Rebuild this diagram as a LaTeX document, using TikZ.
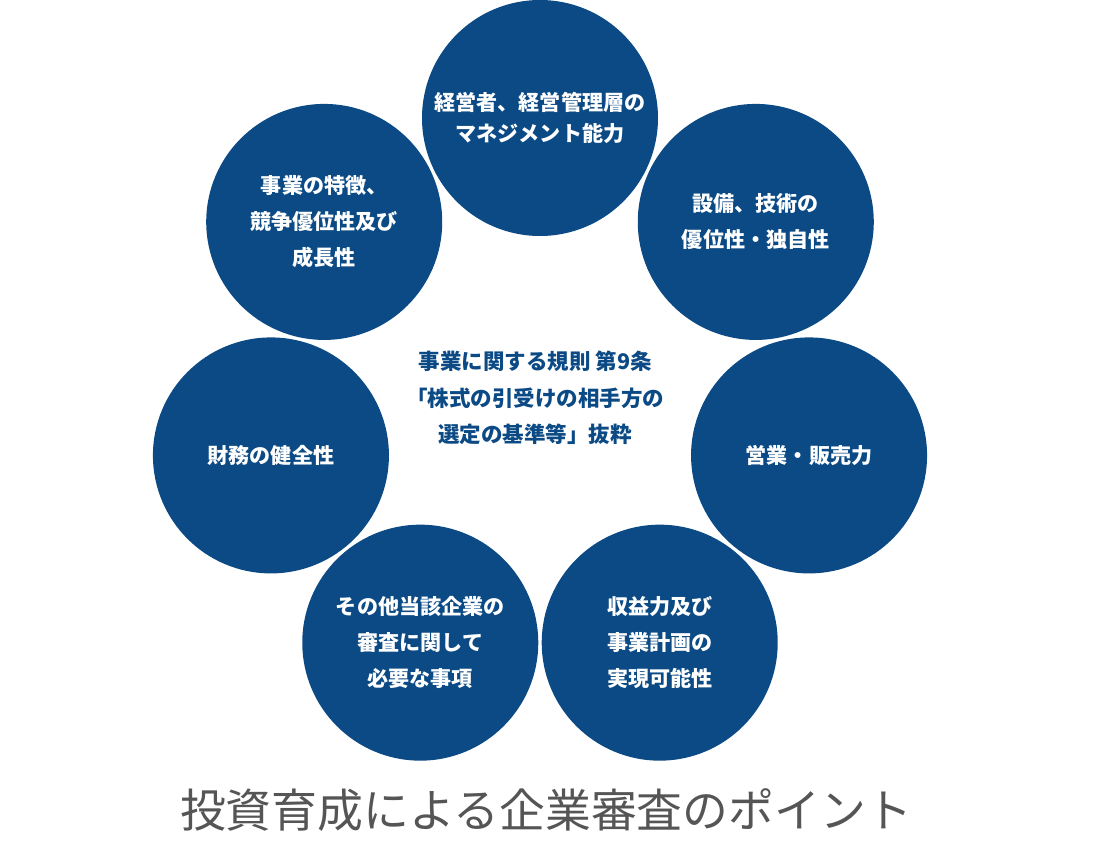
\documentclass[tikz,border=0pt]{standalone}
\usepackage{fontspec}
\setmainfont{Noto Sans CJK JP}
\usepackage{tikz}
\usetikzlibrary{positioning}
\usepackage{xcolor}
\definecolor{navyblue}{RGB}{11,74,132}
\definecolor{titlegray}{RGB}{85,85,85}

\begin{document}
\begin{tikzpicture}[
    every node/.style={font=\fontsize{15}{25.6}\selectfont},
    point/.style={circle, fill=navyblue, text=white, minimum size=5.9cm, inner sep=0pt, align=center, font=\fontsize{15}{25.6}\selectfont\bfseries},
    rule/.style={align=center, text=navyblue, font=\fontsize{15.3}{25.8}\selectfont\bfseries},
    caption/.style={text=titlegray, font=\fontsize{32.6}{38}\selectfont}
]
    \useasboundingbox (-13.5,-11.775) rectangle (13.95,9.85);

    % Center
    \node[rule] (rule) at (-0.12,-0.1) {事業に関する規則 第9条\\「株式の引受けの相手方の\\選定の基準等」抜粋};

    % Points
    \node[point, font=\fontsize{15}{22}\selectfont\bfseries] (mgmt) at (90:6.9) {経営者、経営管理層の\\マネジメント能力};
    \node[point] (tech) at (38.57:6.9) {設備、技術の\\優位性・独自性};
    \node[point] (sales) at (-12.86:6.9) {営業・販売力};
    \node[point] (profit) at (-64.29:6.9) {収益力及び\\事業計画の\\実現可能性};
    \node[point] (other) at (-115.71:6.9) {その他当該企業の\\審査に関して\\必要な事項};
    \node[point] (finance) at (-167.14:6.9) {財務の健全性};
    \node[point] (business) at (141.43:6.9) {事業の特徴、\\競争優位性及び\\成長性};

    % Title
    \node[caption] (title) at (0.15,-10.4) {投資育成による企業審査のポイント};
\end{tikzpicture}
\end{document}
